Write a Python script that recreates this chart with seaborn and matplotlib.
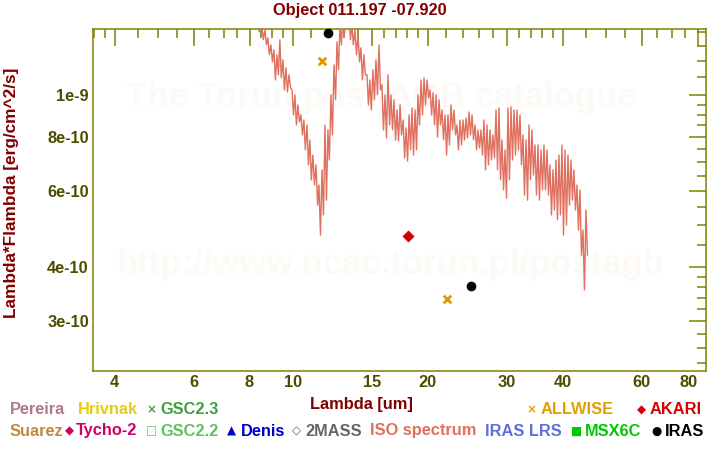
import numpy as np
import pandas as pd
import matplotlib
matplotlib.use("Agg")
import matplotlib.pyplot as plt
import seaborn as sns
from matplotlib.ticker import FixedLocator, FixedFormatter, NullFormatter

sns.set_theme(style="white")
plt.rcParams["font.family"] = ["Liberation Sans", "DejaVu Sans"]
plt.rcParams["font.weight"] = "bold"

# ---------------- data ----------------
title = "Object 011.197 -07.920"

# ISO spectrum (wavelength in um, flux in 1e-10 erg/cm^2/s)
iso_wave = [
    8.35, 8.41, 8.52, 8.59, 8.66, 8.73, 8.79, 8.86, 8.93, 9.00,
    9.07, 9.14, 9.21, 9.28, 9.35, 9.42, 9.50, 9.57, 9.65, 9.72,
    9.80, 9.88, 9.95, 10.03, 10.10, 10.18, 10.26, 10.34, 10.42, 10.50,
    10.58, 10.66, 10.75, 10.83, 10.91, 10.99, 11.08, 11.17, 11.26, 11.35,
    11.43, 11.52, 11.61, 11.70, 11.79, 11.88, 11.97, 12.06, 12.16, 12.25,
    12.35, 12.45, 12.54, 12.64, 12.73, 12.83, 12.93, 13.03, 13.13, 13.23,
    13.34, 13.44, 13.54, 13.64, 13.75, 13.86, 13.97, 14.08, 14.18, 14.29,
    14.40, 14.51, 14.63, 14.74, 14.85, 14.96, 15.08, 15.20, 15.32, 15.44,
    15.56, 15.68, 15.80, 15.92, 16.05, 16.17, 16.30, 16.43, 16.55, 16.68,
    16.81, 16.94, 17.07, 17.20, 17.34, 17.47, 17.61, 17.75, 17.88, 18.02,
    18.16, 18.30, 18.44, 18.58, 18.73, 18.87, 19.01, 19.16, 19.31, 19.46,
    19.61, 19.76, 19.92, 20.07, 20.23, 20.39, 20.54, 20.70, 20.86, 21.02,
    21.18, 21.34, 21.51, 21.68, 21.85, 22.02, 22.18, 22.35, 22.53, 22.70,
    22.88, 23.06, 23.23, 23.41, 23.60, 23.78, 23.96, 24.15, 24.33, 24.52,
    24.71, 24.90, 25.10, 25.29, 25.49, 25.69, 25.88, 26.08, 26.28, 26.48,
    26.69, 26.90, 27.10, 27.31, 27.53, 27.74, 27.95, 28.17, 28.39, 28.61,
    28.83, 29.05, 29.28, 29.51, 29.73, 29.96, 30.19, 30.42, 30.66, 30.90,
    31.14, 31.38, 31.62, 31.86, 32.11, 32.36, 32.61, 32.86, 33.12, 33.38,
    33.63, 33.89, 34.15, 34.41, 34.68, 34.95, 35.22, 35.49, 35.77, 36.05,
    36.32, 36.60, 36.89, 37.17, 37.46, 37.75, 38.04, 38.33, 38.63, 38.93,
    39.23, 39.53, 39.84, 40.15, 40.46, 40.77, 41.09, 41.41, 41.72, 42.04,
    42.37, 42.70, 43.03, 43.36, 43.70, 44.04, 44.38, 44.72, 45.07, 45.42,
]
iso_flux_e10 = [
    14.91, 13.99, 14.44, 13.41, 14.14, 13.05, 13.55, 12.38, 13.05, 11.92,
    12.71, 10.83, 12.38, 11.13, 13.41, 10.95, 12.05, 10.27, 11.55, 10.16,
    11.13, 10.38, 10.27, 8.99, 10.00, 8.52, 9.48, 8.66, 8.99, 8.08,
    8.75, 7.46, 8.52, 6.89, 7.87, 6.36, 7.26, 6.19, 6.89, 5.56,
    6.19, 4.74, 6.71, 5.28, 8.52, 5.71, 8.30, 7.07, 10.00, 8.08,
    11.73, 9.74, 13.27, 11.43, 14.52, 13.05, 15.31, 13.77, 15.73, 14.14,
    15.31, 13.41, 14.52, 13.05, 14.14, 12.38, 13.77, 11.92, 12.85, 10.83,
    12.38, 11.13, 11.13, 9.48, 10.83, 9.23, 11.43, 9.74, 12.05, 10.00,
    13.05, 10.27, 10.55, 8.30, 10.00, 7.95, 11.13, 8.52, 10.00, 8.30,
    9.74, 7.87, 9.23, 7.83, 9.48, 8.08, 8.75, 7.15, 8.39, 7.03,
    8.99, 7.46, 9.33, 7.26, 9.23, 7.46, 10.00, 8.52, 10.83, 8.99,
    10.95, 9.48, 10.83, 9.84, 10.27, 8.99, 10.11, 8.52, 10.00, 7.99,
    9.74, 8.52, 9.23, 7.87, 8.99, 7.26, 8.99, 7.66, 9.48, 8.30,
    9.23, 8.08, 8.52, 7.46, 8.75, 7.66, 8.75, 7.87, 8.84, 7.95,
    9.13, 8.08, 8.99, 7.87, 8.52, 7.46, 8.30, 7.54, 8.30, 7.26,
    8.75, 6.71, 8.52, 6.89, 8.30, 7.07, 8.08, 7.15, 9.23, 6.71,
    9.33, 6.36, 7.87, 6.03, 7.46, 5.77, 9.33, 6.36, 9.38, 7.07,
    9.23, 7.26, 9.23, 7.46, 8.99, 6.89, 8.08, 5.87, 7.87, 5.71,
    8.52, 6.36, 8.30, 6.53, 7.66, 5.87, 7.66, 5.71, 7.46, 6.03,
    7.66, 6.03, 7.46, 5.87, 6.89, 5.28, 6.71, 5.42, 7.07, 5.14,
    7.26, 5.28, 7.66, 4.74, 7.46, 5.00, 7.26, 5.56, 7.07, 5.71,
    6.71, 5.42, 6.19, 4.87, 6.03, 4.26, 4.87, 3.54, 5.42, 4.26,
]

# photometry
allwise_wave = [11.6, 22.1]
allwise_flux = [1.198e-9, 3.37e-10]
akari_wave = [18.1]
akari_flux = [4.72e-10]
iras_wave = [12.0, 25.0]
iras_flux = [1.39e-9, 3.61e-10]

# axis ticks
x_major = [4, 6, 8, 10, 15, 20, 30, 40, 60, 80]
x_major_labels = ["4", "6", "8", "10", "15", "20", "30", "40", "60", "80"]
x_minor = [3.6, 3.8, 4.5, 5, 5.5, 6.5, 7, 7.5, 8.5, 9, 9.5, 11, 12, 13, 14,
           16, 17, 18, 19, 22, 24, 26, 28, 32, 34, 36, 38, 45, 50, 55, 65, 70, 75]
y_major = [3e-10, 4e-10, 6e-10, 8e-10, 1e-9]
y_major_labels = ["3e-10", "4e-10", "6e-10", "8e-10", "1e-9"]
y_minor = [2.4e-10, 2.6e-10, 2.8e-10, 3.2e-10, 3.4e-10, 3.6e-10, 3.8e-10,
           4.5e-10, 5e-10, 5.5e-10, 6.5e-10, 7e-10, 7.5e-10, 8.5e-10, 9e-10,
           9.5e-10, 1.1e-9, 1.2e-9, 1.3e-9, 1.4e-9]

# legend entries: (symbol, label, colour, symbol x_px, label x_px, row)
legend_items = [
    ("", "Pereira", "#b07890", 0, 10, 0),
    ("", "Hrivnak", "#e6cc10", 0, 78, 0),
    ("\u00d7", "GSC2.3", "#40a040", 151, 160, 0),
    ("\u00d7", "ALLWISE", "#e0a000", 531, 541, 0),
    ("\u25c6", "AKARI", "#d80000", 641, 650, 0),
    ("", "Suarez", "#c08a40", 0, 10, 1),
    ("\u25c6", "Tycho-2", "#cc0066", 69, 76, 1),
    ("\u25a1", "GSC2.2", "#60c060", 151, 160, 1),
    ("\u25b2", "Denis", "#0000cc", 231, 241, 1),
    ("\u25c7", "2MASS", "#666666", 296, 305, 1),
    ("", "ISO spectrum", "#e07060", 0, 370, 1),
    ("", "IRAS LRS", "#6070d8", 0, 485, 1),
    ("\u25a0", "MSX6C", "#00c800", 577, 585, 1),
    ("\u25cf", "IRAS", "#000000", 656, 665, 1),
]

# ---------------- figure ----------------
W, H = 720, 450
fig = plt.figure(figsize=(7.2, 4.5), dpi=100)
fig.patch.set_facecolor("white")
L, R, T, B = 93, 706, 29, 371
ax = fig.add_axes([L / W, 1 - B / H, (R - L) / W, (B - T) / H])
ax.set_facecolor("white")
ax.set_xscale("log")
ax.set_yscale("log")
ax.set_xlim(3.58, 83.5)
ax.set_ylim(2.30e-10, 1.42e-9)

olive = "#808000"
ticklab = "#4d4d00"
maroon = "#800000"
fs = 11.8

# watermark
ax.text(0.47, 0.80, "The Torun post-AGB catalogue", transform=ax.transAxes,
        ha="center", va="center", fontsize=25, color="#fdfaf6", zorder=0)
ax.text(0.485, 0.31, "http://www.ncac.torun.pl/postagb", transform=ax.transAxes,
        ha="center", va="center", fontsize=25, color="#fdfaf6", zorder=0)

spec = pd.DataFrame({"wave": iso_wave,
                     "flux": np.array(iso_flux_e10) * 1e-10})
sns.lineplot(data=spec, x="wave", y="flux", sort=False, estimator=None,
             color="#e07060", lw=1.0, ax=ax, zorder=3)

sns.scatterplot(x=allwise_wave, y=allwise_flux, marker="x", s=30,
                color="#e09a00", linewidth=2, ax=ax, zorder=5)
sns.scatterplot(x=akari_wave, y=akari_flux, marker="D", s=32,
                color="#d00000", edgecolor="#d00000", ax=ax, zorder=5)
sns.scatterplot(x=iras_wave, y=iras_flux, marker="o", s=42,
                color="black", edgecolor="black", ax=ax, zorder=5,
                clip_on=False)

ax.set_xlabel("")
ax.set_ylabel("")

ax.xaxis.set_major_locator(FixedLocator(x_major))
ax.xaxis.set_major_formatter(FixedFormatter(x_major_labels))
ax.xaxis.set_minor_locator(FixedLocator(x_minor))
ax.xaxis.set_minor_formatter(NullFormatter())
ax.yaxis.set_major_locator(FixedLocator(y_major))
ax.yaxis.set_major_formatter(FixedFormatter(y_major_labels))
ax.yaxis.set_minor_locator(FixedLocator(y_minor))
ax.yaxis.set_minor_formatter(NullFormatter())

ax.tick_params(which="both", direction="in", top=True, right=True,
               color=olive, width=1.1)
ax.tick_params(which="major", length=12.5, labelsize=fs, labelcolor=ticklab, pad=3)
ax.tick_params(which="minor", length=6.5)
for lab in ax.get_xticklabels() + ax.get_yticklabels():
    lab.set_fontweight("bold")
# keep the last x label inside the frame, as in the reference
ax.get_xticklabels()[-1].set_horizontalalignment("right")
for s in ax.spines.values():
    s.set_color(olive)
    s.set_linewidth(1.1)
    s.set_visible(True)

# title and axis labels
fig.text(360 / W, 1 - 11 / H, title, ha="center", va="center",
         fontsize=fs, color=maroon, fontweight="bold")
fig.text(361 / W, 1 - 405 / H, "Lambda [um]", ha="center", va="center",
         fontsize=fs, color=maroon, fontweight="bold")
fig.text(12 / W, 1 - 193 / H, "Lambda*Flambda [erg/cm^2/s]", ha="center",
         va="center", rotation=90, fontsize=12.4, color=maroon, fontweight="bold")

# legend (text rows)
rows_y = [410, 431]
for sym, lab, col, sx, lx, row in legend_items:
    y = 1 - rows_y[row] / H
    if sym:
        fig.text(sx / W, y, sym, ha="center", va="center", fontsize=8.5,
                 color=col, family="DejaVu Sans", fontweight="bold")
    fig.text(lx / W, y, lab, ha="left", va="center", fontsize=fs,
             color=col, fontweight="bold")

fig.savefig("out.png", dpi=100, facecolor="white")
